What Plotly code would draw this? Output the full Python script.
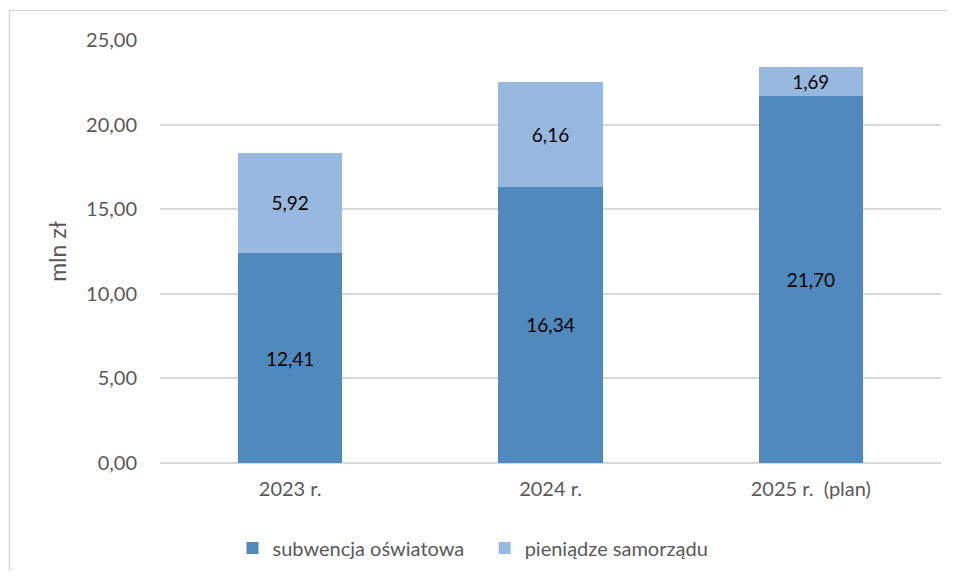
import plotly.graph_objects as go

categories = ["2023 r.", "2024 r.", "2025 r.  (plan)"]
subwencja = [12.41, 16.34, 21.70]
pieniadze = [5.92, 6.16, 1.69]
yticks = [0, 5, 10, 15, 20, 25]
yticklabels = ["0,00", "5,00", "10,00", "15,00", "20,00", "25,00"]
series_names = ["subwencja oświatowa", "pieniądze samorządu"]

def fmt(v):
    return f"{v:.2f}".replace(".", ",")

FONT = "Lato, 'Open Sans', sans-serif"
GREY = "#595959"
# page body has an 8px default margin on every side; size the figure to avoid scrollbars
OFF = 8
W, H = 955 - 2 * OFF, 579 - 2 * OFF

fig = go.Figure()
fig.add_trace(go.Bar(
    x=categories, y=subwencja, name=series_names[0] + "\u00a0\u00a0\u00a0",
    marker=dict(color="#4F89BD", line=dict(width=0)),
    text=[fmt(v) for v in subwencja], textposition="inside",
    insidetextanchor="middle",
    textfont=dict(color="black", size=19, family=FONT),
))
fig.add_trace(go.Bar(
    x=categories, y=pieniadze, name=series_names[1],
    marker=dict(color="#97B9E0", line=dict(width=0)),
    text=[fmt(v) for v in pieniadze], textposition="inside",
    insidetextanchor="middle",
    textfont=dict(color="black", size=19, family=FONT),
))

# plot area in page pixels: x 160..941, y 40..463
l, t = 160 - OFF, 40 - OFF
r = W - (941 - OFF)
b = H - (463 - OFF)
pw, ph = W - l - r, H - t - b

border = dict(color="#D9D9D9", width=1.5)
fig.update_layout(
    width=W, height=H,
    barmode="stack", bargap=0.6,
    margin=dict(l=l, r=r, t=t, b=b, pad=0, autoexpand=False),
    plot_bgcolor="white", paper_bgcolor="white",
    font=dict(family=FONT, size=20, color=GREY),
    xaxis=dict(showgrid=False, showline=False, ticks="", automargin=False,
               tickfont=dict(size=20, color=GREY), ticklabelstandoff=12),
    yaxis=dict(range=[0, 25], tickvals=yticks, ticktext=yticklabels, automargin=False,
               showgrid=True, gridcolor="#D9D9D9", gridwidth=1.5,
               zeroline=True, zerolinecolor="#D9D9D9", zerolinewidth=1.5,
               showline=False, ticks="", ticklabelstandoff=22,
               tickfont=dict(size=20, color=GREY),
               title=dict(text="mln zł", font=dict(size=23, color=GREY), standoff=12)),
    legend=dict(orientation="h", x=(473 - OFF - l) / pw, xanchor="center",
                y=-(548 - 463) / ph, yanchor="middle",
                font=dict(size=20, color=GREY), traceorder="normal",
                itemwidth=30, bgcolor="rgba(0,0,0,0)"),
    showlegend=True,
    shapes=[
        dict(type="line", xref="paper", yref="paper",
             x0=(1.5 - l) / pw, x1=(W - l) / pw,
             y0=(ph + t - 2.5) / ph, y1=(ph + t - 2.5) / ph, line=border, layer="below"),
        dict(type="line", xref="paper", yref="paper",
             x0=(1.5 - l) / pw, x1=(1.5 - l) / pw,
             y0=-b / ph, y1=(ph + t - 2.5) / ph, line=border, layer="below"),
    ],
)

fig.write_html("out.html")
